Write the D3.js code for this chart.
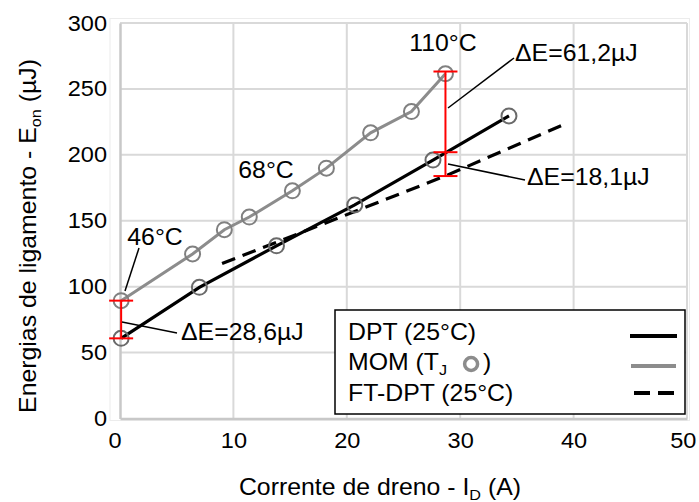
<!DOCTYPE html>
<html>
<head>
<meta charset="utf-8">
<script src="https://cdn.jsdelivr.net/npm/d3@7"></script>
<style>
  html, body { margin: 0; padding: 0; background: #fff; }
  svg { display: block; font-family: "Liberation Sans", Arial, sans-serif; }
</style>
</head>
<body>
<svg id="chart" width="699" height="502"></svg>
<script>
// Drain current (A) vs turn-on energy (µJ)
const dptCurrent = [0.1, 7.0, 13.8, 20.7, 27.6, 34.3];
const dptEnergy  = [60.8, 99.5, 131.0, 162.0, 196.0, 229.5];

const momCurrent = [0.1, 6.4, 9.2, 11.4, 15.2, 18.2, 22.1, 25.7, 28.7];
const momEnergy  = [89.4, 124.8, 143.2, 152.8, 172.7, 189.9, 216.7, 232.8, 261.5];

const ftCurrent = [9.0, 20.7, 28.7, 39.0];
const ftEnergy  = [117.5, 157.0, 184.0, 222.5];

const xTicks = [0, 10, 20, 30, 40, 50];
const yTicks = [0, 50, 100, 150, 200, 250, 300];

// Energy differences marked with red bars
const deltaLow  = { current: 0.1, base: 60.8, up: 28.6 };
const deltaHigh = { current: 28.7, base: 202.0, up: 61.2, down: 18.1 };

const tempLabels = ["46°C", "68°C", "110°C"];
const legendLabels = ["DPT (25°C)", "MOM (T", "FT-DPT (25°C)"];

const svg = d3.select("#chart");
const x = d3.scaleLinear().domain([0, 50]).range([120, 687]);
const y = d3.scaleLinear().domain([0, 300]).range([418.5, 23]);

const gridColor = "#d9d9d9";
const fs = 23;       // text size
const sx = 1.08;     // horizontal widening of the lettering

// text placed at (tx, ty), slightly widened horizontally
function wideText(parent, tx, ty, anchor, size, stretch) {
  return parent.append("g").attr("transform", `translate(${tx},${ty}) scale(${stretch || sx},1)`)
    .append("text").attr("text-anchor", anchor || "start").attr("font-size", size || fs).attr("fill", "#000");
}

// faint outer frame of the plot
svg.append("rect").attr("x", 110).attr("y", 18.5).attr("width", 579.5).attr("height", 402)
  .attr("fill", "none").attr("stroke", "#ececec").attr("stroke-width", 1);

// grid
svg.append("g").selectAll("line").data(xTicks.slice(1)).join("line")
  .attr("x1", d => x(d)).attr("x2", d => x(d)).attr("y1", y(0)).attr("y2", y(300))
  .attr("stroke", gridColor).attr("stroke-width", 2);
svg.append("g").selectAll("line").data(yTicks.slice(1)).join("line")
  .attr("x1", x(0)).attr("x2", x(50)).attr("y1", d => y(d)).attr("y2", d => y(d))
  .attr("stroke", gridColor).attr("stroke-width", 2);

// axes
const xAxis = d3.axisBottom(x).tickValues(xTicks).tickSize(0).tickPadding(14);
const gx = svg.append("g").attr("transform", `translate(0,${y(0)})`).call(xAxis);
gx.select(".domain").attr("stroke", "#c8c8c8").attr("stroke-width", 2.5);
gx.selectAll("text").attr("font-size", 22).attr("font-family", "Liberation Sans, Arial, sans-serif")
  .attr("fill", "#000").attr("transform", "scale(1.07,1)")
  // keep the end labels inside the frame
  .attr("dx", (d, i, n) => i === 0 ? -5 : (i === n.length - 1 ? -4 : 0));

const yAxis = d3.axisLeft(y).tickValues(yTicks).tickSize(0).tickPadding(13);
const gy = svg.append("g").attr("transform", `translate(${x(0)},0)`).call(yAxis);
gy.select(".domain").attr("stroke", "#c8c8c8").attr("stroke-width", 2.5);
gy.selectAll("text").attr("font-size", 22).attr("font-family", "Liberation Sans, Arial, sans-serif")
  .attr("fill", "#000").attr("transform", "scale(1.07,1)").attr("x", -13 / 1.07);

// axis titles
const xt = wideText(svg, 380, 495, "middle");
xt.append("tspan").text("Corrente de dreno - I");
xt.append("tspan").attr("font-size", 15).attr("dy", 5).text("D");
xt.append("tspan").attr("dy", -5).text(" (A)");

const yt = svg.append("g").attr("transform", "translate(36,236) rotate(-90) scale(1.08,1)")
  .append("text").attr("text-anchor", "middle").attr("font-size", fs);
yt.append("tspan").text("Energias de ligamento - E");
yt.append("tspan").attr("font-size", 15).attr("dy", 5).text("on");
yt.append("tspan").attr("dy", -5).text(" (µJ)");

const line = d3.line().x(d => x(d[0])).y(d => y(d[1]));
const dpt = dptCurrent.map((c, i) => [c, dptEnergy[i]]);
const mom = momCurrent.map((c, i) => [c, momEnergy[i]]);
const ft  = ftCurrent.map((c, i) => [c, ftEnergy[i]]);

// series lines
svg.append("path").datum(ft).attr("d", line).attr("fill", "none")
  .attr("stroke", "#000").attr("stroke-width", 3.2).attr("stroke-dasharray", "14 8");
svg.append("path").datum(mom).attr("d", line).attr("fill", "none")
  .attr("stroke", "#8c8c8c").attr("stroke-width", 3);
svg.append("path").datum(dpt).attr("d", line).attr("fill", "none")
  .attr("stroke", "#000").attr("stroke-width", 3.2);

// markers
svg.append("g").selectAll("circle").data(mom).join("circle")
  .attr("cx", d => x(d[0])).attr("cy", d => y(d[1])).attr("r", 7.5)
  .attr("fill", "none").attr("stroke", "#808080").attr("stroke-width", 2);
svg.append("g").selectAll("circle").data(dpt).join("circle")
  .attr("cx", d => x(d[0])).attr("cy", d => y(d[1])).attr("r", 7.5)
  .attr("fill", "none").attr("stroke", "#6a6a6a").attr("stroke-width", 2);

// red difference bars
function redBar(cx, yTop, yBot, caps) {
  const g = svg.append("g").attr("stroke", "#ff0000").attr("stroke-width", 2);
  g.append("line").attr("x1", x(cx)).attr("x2", x(cx)).attr("y1", y(yTop)).attr("y2", y(yBot));
  caps.forEach(v => g.append("line").attr("x1", x(cx) - 12).attr("x2", x(cx) + 12)
    .attr("y1", y(v)).attr("y2", y(v)));
}
redBar(deltaLow.current, deltaLow.base + deltaLow.up, deltaLow.base,
  [deltaLow.base + deltaLow.up, deltaLow.base]);
redBar(deltaHigh.current, deltaHigh.base + deltaHigh.up, deltaHigh.base - deltaHigh.down,
  [deltaHigh.base + deltaHigh.up, deltaHigh.base, deltaHigh.base - deltaHigh.down]);

// annotation leaders
const leaders = [
  [125, 291, 139, 248],
  [448, 108, 514, 58],
  [448, 164, 525, 180],
  [122, 322, 177, 333]
];
svg.append("g").selectAll("line").data(leaders).join("line")
  .attr("x1", d => d[0]).attr("y1", d => d[1]).attr("x2", d => d[2]).attr("y2", d => d[3])
  .attr("stroke", "#000").attr("stroke-width", 1.5);

// annotation texts
const fmt = v => String(v).replace(".", ",");
wideText(svg, 155, 245, "middle").text(tempLabels[0]);
wideText(svg, 266, 178, "middle").text(tempLabels[1]);
wideText(svg, 443, 51, "middle").text(tempLabels[2]);
wideText(svg, 515, 61).text("ΔE=" + fmt(deltaHigh.up) + "µJ");
wideText(svg, 527, 185).text("ΔE=" + fmt(deltaHigh.down) + "µJ");
wideText(svg, 181, 340).text("ΔE=" + fmt(deltaLow.up) + "µJ");

// legend
const lg = svg.append("g");
lg.append("rect").attr("x", 335).attr("y", 310).attr("width", 350).attr("height", 104)
  .attr("fill", "#fff").attr("stroke", "#000").attr("stroke-width", 1.5);
const rows = [339.5, 370, 400.5];
wideText(lg, 348, rows[0]).text(legendLabels[0]);
const momText = wideText(lg, 348, rows[1]);
momText.append("tspan").text(legendLabels[1]);
momText.append("tspan").attr("font-size", 15).attr("dy", 5).text("J");
const momEnd = 348 + momText.node().getComputedTextLength() * sx;
lg.append("circle").attr("cx", momEnd + 24).attr("cy", rows[1] - 6).attr("r", 6.5)
  .attr("fill", "none").attr("stroke", "#8c8c8c").attr("stroke-width", 3.5);
wideText(lg, momEnd + 36, rows[1]).text(")");
wideText(lg, 348, rows[2]).text(legendLabels[2]);

lg.append("line").attr("x1", 630).attr("x2", 677).attr("y1", 336).attr("y2", 336)
  .attr("stroke", "#000").attr("stroke-width", 4);
lg.append("line").attr("x1", 631).attr("x2", 676).attr("y1", 366).attr("y2", 366)
  .attr("stroke", "#8c8c8c").attr("stroke-width", 4);
lg.append("line").attr("x1", 634).attr("x2", 680).attr("y1", 393).attr("y2", 393)
  .attr("stroke", "#000").attr("stroke-width", 4).attr("stroke-dasharray", "16 8");
</script>
</body>
</html>
